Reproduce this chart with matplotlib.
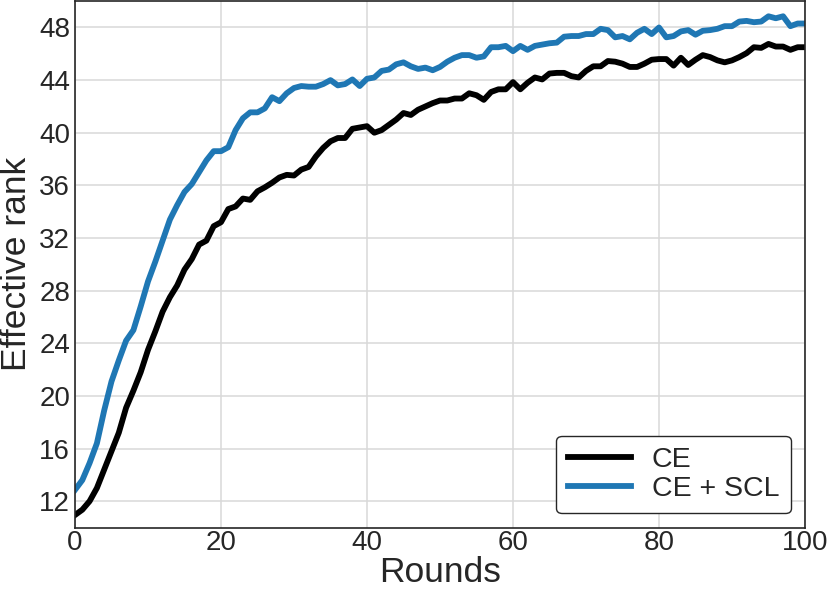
import numpy as np
import matplotlib
matplotlib.use('Agg')
import matplotlib.pyplot as plt

plt.rcParams['font.family'] = ['Liberation Sans', 'DejaVu Sans']

rounds = np.arange(0, 101)

# effective rank, CE only
ce = [10.95, 11.35, 12.0, 13.0, 14.4, 15.8, 17.2, 19.1, 20.4, 21.8,
      23.5, 24.9, 26.4, 27.5, 28.4, 29.6, 30.4, 31.5, 31.8, 32.9,
      33.2, 34.2, 34.4, 35.0, 34.9, 35.55, 35.85, 36.2, 36.6, 36.8,
      36.75, 37.2, 37.4, 38.2, 38.85, 39.35, 39.6, 39.6, 40.3, 40.4,
      40.5, 40.0, 40.2, 40.6, 41.0, 41.5, 41.35, 41.75, 42.0, 42.25,
      42.45, 42.45, 42.6, 42.6, 43.0, 42.85, 42.5, 43.1, 43.3, 43.3,
      43.85, 43.3, 43.8, 44.2, 44.05, 44.5, 44.55, 44.55, 44.3, 44.2,
      44.7, 45.05, 45.05, 45.45, 45.4, 45.25, 45.0, 45.0, 45.25, 45.55,
      45.6, 45.6, 45.1, 45.7, 45.15, 45.55, 45.9, 45.75, 45.5, 45.35,
      45.5, 45.75, 46.05, 46.5, 46.45, 46.75, 46.55, 46.55, 46.3, 46.5,
      46.5]

# effective rank, CE + SCL
ce_scl = [12.86, 13.6, 14.9, 16.4, 18.9, 21.1, 22.7, 24.2, 25.0, 26.8,
          28.7, 30.2, 31.8, 33.4, 34.5, 35.5, 36.1, 37.0, 37.9, 38.6,
          38.6, 38.9, 40.2, 41.1, 41.55, 41.55, 41.85, 42.7, 42.4, 43.0,
          43.4, 43.55, 43.5, 43.5, 43.7, 44.0, 43.6, 43.7, 44.05, 43.55,
          44.1, 44.2, 44.7, 44.8, 45.2, 45.35, 45.05, 44.85, 44.95, 44.75,
          45.0, 45.4, 45.7, 45.9, 45.9, 45.7, 45.8, 46.5, 46.5, 46.6,
          46.2, 46.6, 46.3, 46.6, 46.7, 46.8, 46.85, 47.3, 47.35, 47.35,
          47.5, 47.5, 47.9, 47.8, 47.25, 47.35, 47.1, 47.6, 47.9, 47.5,
          48.0, 47.25, 47.35, 47.7, 47.8, 47.45, 47.75, 47.8, 47.9, 48.1,
          48.1, 48.45, 48.5, 48.4, 48.45, 48.85, 48.7, 48.85, 48.1, 48.3,
          48.3]

yticks = [12, 16, 20, 24, 28, 32, 36, 40, 44, 48]
xticks = [0, 20, 40, 60, 80, 100]

fig = plt.figure(figsize=(8.3, 5.98), dpi=100)
ax = fig.add_axes([75 / 830, 1 - 527.5 / 598, 730 / 830, 527 / 598])

ax.plot(rounds, ce, color='black', lw=4.2, label='CE')
ax.plot(rounds, ce_scl, color='#1f77b4', lw=4.2, label='CE + SCL')

ax.set_xlim(0, 100)
ax.set_ylim(10.0, 50.05)
ax.set_xticks(xticks)
ax.set_yticks(yticks)
ax.grid(True, color='#d9d9d9', lw=1.1)
ax.set_axisbelow(True)
for s in ax.spines.values():
    s.set_color('#262626')
    s.set_linewidth(1.2)
ax.tick_params(labelsize=20, colors='#262626', length=0)
ax.tick_params(axis='x', pad=2)
ax.tick_params(axis='y', pad=3.5)
ax.set_xlabel('Rounds', fontsize=25.5, color='#262626', labelpad=0)
ax.set_ylabel('Effective rank', fontsize=25.5, color='#262626')
ax.yaxis.set_label_coords(-0.058, 0.5)

leg = ax.legend(loc='lower right', fontsize=20.5, frameon=True, fancybox=True,
                edgecolor='#262626', framealpha=1.0, borderaxespad=0.5,
                handlelength=2.2, handletextpad=0.75, labelspacing=0.1)
leg.get_frame().set_linewidth(1.0)
for t in leg.get_texts():
    t.set_color('#262626')

fig.savefig('out.png', dpi=100)
